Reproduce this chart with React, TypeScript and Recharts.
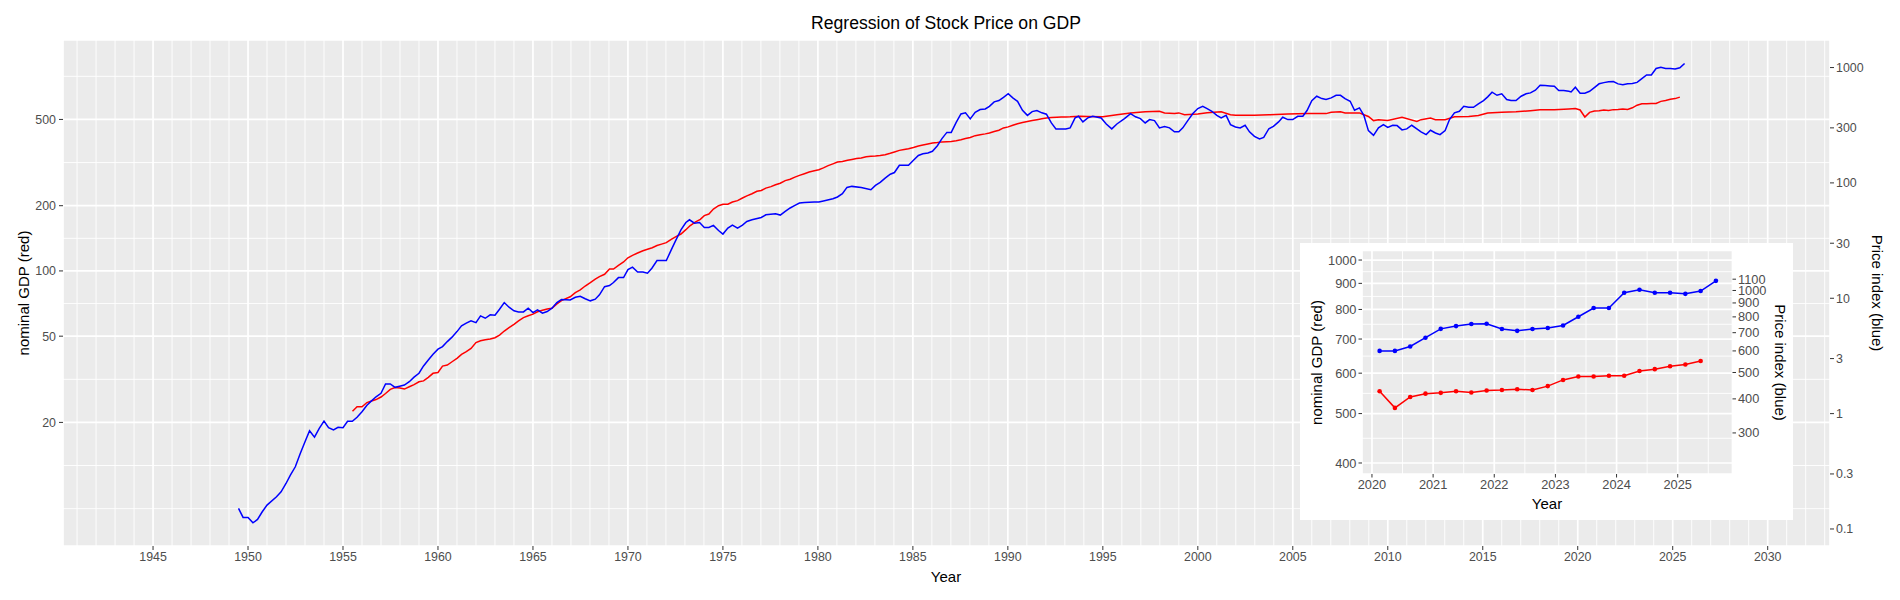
import React from 'react';
import { LineChart, Line, XAxis, YAxis, CartesianGrid } from 'recharts';

const FONT = '"Liberation Sans", Arial, Helvetica, sans-serif';

// Price index (blue), main chart readings up to end of 2019
const priceYears = [
  1949.5, 1949.74, 1950, 1950.26, 1950.5, 1950.75, 1951, 1951.5, 1951.74, 1952, 1952.23, 1952.49, 1952.75,
  1953, 1953.24, 1953.5, 1953.75, 1954, 1954.24, 1954.5, 1954.74, 1955, 1955.24, 1955.49, 1955.74,
  1956, 1956.26, 1956.5, 1956.74, 1957, 1957.24, 1957.49, 1957.74, 1957.98, 1958.23, 1958.49, 1958.74,
  1959, 1959.24, 1959.49, 1959.74, 1960, 1960.24, 1960.49, 1960.74, 1961, 1961.24, 1961.49, 1961.74,
  1962, 1962.24, 1962.49, 1962.75, 1963, 1963.24, 1963.49, 1963.74, 1964, 1964.24, 1964.5, 1964.75,
  1965, 1965.24, 1965.5, 1965.75, 1966, 1966.26, 1966.5, 1966.96, 1967.23, 1967.49, 1967.75, 1968.02,
  1968.28, 1968.5, 1968.77, 1969.03, 1969.24, 1969.5, 1969.77, 1970, 1970.24, 1970.51, 1970.79, 1971.03,
  1971.26, 1971.53, 1972.02, 1972.28, 1972.53, 1972.79, 1973.05, 1973.24, 1973.5, 1973.77, 1974.02,
  1974.26, 1974.5, 1974.77, 1975, 1975.26, 1975.5, 1975.77, 1976.03, 1976.26, 1976.53, 1977.02, 1977.26,
  1977.77, 1978.02, 1978.28, 1978.54, 1978.79, 1979.03, 1979.29, 1979.81, 1980.05, 1980.29, 1980.79,
  1981.03, 1981.29, 1981.53, 1981.79, 1982.28, 1982.79, 1983.03, 1983.28, 1983.54, 1983.81, 1984.03,
  1984.29, 1984.77, 1985.03, 1985.29, 1985.53, 1985.79, 1986.03, 1986.29, 1986.53, 1986.79, 1987.02,
  1987.28, 1987.53, 1987.77, 1988.02, 1988.28, 1988.54, 1988.81, 1989.03, 1989.28, 1989.53, 1989.77,
  1990.02, 1990.26, 1990.51, 1990.77, 1991.03, 1991.28, 1991.53, 1991.79, 1992.03, 1992.29, 1992.53,
  1993.05, 1993.28, 1993.54, 1993.72, 1993.95, 1994.21, 1994.47, 1994.91, 1995.18, 1995.47, 1995.74,
  1996.14, 1996.46, 1996.72, 1996.98, 1997.23, 1997.46, 1997.72, 1997.98, 1998.25, 1998.51, 1998.77,
  1999, 1999.21, 1999.47, 1999.74, 2000, 2000.26, 2000.49, 2000.74, 2001, 2001.23, 2001.49, 2001.72,
  2001.98, 2002.23, 2002.49, 2002.72, 2002.98, 2003.25, 2003.47, 2003.74, 2003.98, 2004.25, 2004.47,
  2004.74, 2005, 2005.26, 2005.53, 2005.75, 2006, 2006.26, 2006.53, 2006.75, 2007.02, 2007.28, 2007.51,
  2007.75, 2008.02, 2008.25, 2008.51, 2008.74, 2008.98, 2009.25, 2009.51, 2009.77, 2010, 2010.26,
  2010.49, 2010.75, 2011, 2011.26, 2011.53, 2011.75, 2012.02, 2012.25, 2012.51, 2012.75, 2013.02,
  2013.25, 2013.51, 2013.77, 2014, 2014.26, 2014.51, 2014.77, 2015.04, 2015.26, 2015.49, 2015.75, 2016,
  2016.26, 2016.49, 2016.75, 2017.02, 2017.28, 2017.51, 2017.77, 2018.02, 2018.28, 2018.54, 2018.77,
  2019, 2019.26, 2019.53, 2019.65, 2019.875,
];
const priceIndex = [
  0.151, 0.126, 0.126, 0.113, 0.121, 0.141, 0.161, 0.19, 0.21, 0.248, 0.293, 0.346, 0.452,
  0.57, 0.71, 0.626, 0.745, 0.863, 0.755, 0.721, 0.76, 0.755, 0.857, 0.857, 0.929,
  1.04, 1.18, 1.29, 1.4, 1.5, 1.81, 1.81, 1.69, 1.73, 1.77, 1.89, 2.07,
  2.24, 2.59, 2.92, 3.27, 3.62, 3.81, 4.21, 4.6, 5.14, 5.76, 6.08, 6.37,
  6.15, 7.03, 6.71, 7.18, 7.13, 8.04, 9.18, 8.37, 7.78, 7.62, 7.62, 8.2,
  7.52, 7.93, 7.43, 7.67, 8.2, 9.18, 9.75, 9.68, 10.2, 10.4, 9.9, 9.5,
  9.82, 10.7, 12.6, 12.9, 13.7, 15.1, 15.1, 17.7, 18.6, 16.9, 16.9, 16.5,
  18.2, 21.2, 21.2, 26.3, 32.1, 39.2, 45.4, 47.9, 44.8, 45.4, 41.1,
  41.1, 42.8, 38.7, 36, 40.6, 43.1, 40.6, 43.1, 46.3, 47.9, 50.2, 52.9,
  54, 52.6, 56.6, 60.6, 63.8, 66.9, 67.7, 68.3, 68.3, 69.7, 72.9,
  75.5, 80.6, 91.4, 93.3, 91.4, 87.3, 95.1, 101, 110, 119, 123,
  142, 142, 157, 173, 179, 182, 188, 210, 242, 274, 274,
  335, 396, 405, 359, 409, 432, 438, 461, 504, 517, 552,
  594, 546, 510, 426, 385, 415, 424, 405, 394, 331, 294,
  294, 300, 366, 378, 338, 366, 378, 366, 324, 294, 324,
  361, 399, 374, 361, 331, 354, 347, 300, 308, 300, 277,
  277, 300, 347, 399, 441, 461, 441, 418, 385, 366, 385, 320,
  305, 300, 316, 277, 253, 241, 248, 295, 309, 338, 371,
  354, 354, 378, 378, 424, 517, 564, 538, 528, 546, 575, 575,
  538, 510, 426, 447, 385, 284, 258, 300, 320, 303, 316,
  314, 288, 294, 316, 294, 277, 262, 286, 271, 262, 284,
  354, 405, 418, 461, 452, 452, 484, 517, 557, 611, 575, 592,
  528, 517, 517, 564, 592, 603, 636, 702, 698, 693, 689,
  631, 631, 622, 615, 675,
];

// nominal GDP (red), main chart readings up to end of 2019
const gdpYears = [
  1955.5, 1955.74, 1956, 1956.26, 1956.5, 1956.74, 1957, 1957.24, 1957.49, 1957.74, 1958, 1958.23, 1958.49,
  1958.74, 1959, 1959.24, 1959.49, 1959.74, 1960, 1960.24, 1960.49, 1960.74, 1961, 1961.24, 1961.49,
  1961.74, 1962, 1962.24, 1962.49, 1962.75, 1963, 1963.24, 1963.49, 1963.74, 1964, 1964.24, 1964.5,
  1964.75, 1965, 1965.24, 1965.5, 1965.75, 1966, 1966.26, 1966.5, 1966.7, 1966.96, 1967.23, 1967.49,
  1967.75, 1968.02, 1968.28, 1968.5, 1968.77, 1969.03, 1969.24, 1969.5, 1969.77, 1970, 1970.24, 1970.51,
  1970.79, 1971.03, 1971.28, 1971.53, 1971.77, 1972.02, 1972.28, 1972.53, 1972.79, 1973.05, 1973.28,
  1973.54, 1973.81, 1974.02, 1974.26, 1974.5, 1974.77, 1975, 1975.26, 1975.5, 1975.77, 1976.03, 1976.26,
  1976.53, 1976.79, 1977.02, 1977.26, 1977.53, 1977.77, 1978.02, 1978.28, 1978.54, 1978.79, 1979.03,
  1979.29, 1979.54, 1979.81, 1980.05, 1980.29, 1980.54, 1980.79, 1981.03, 1981.29, 1981.56, 1981.79,
  1982.03, 1982.28, 1982.54, 1982.79, 1983.03, 1983.28, 1983.54, 1983.81, 1984.03, 1984.29, 1984.54,
  1984.77, 1985.03, 1985.29, 1985.53, 1985.79, 1986.03, 1986.29, 1986.53, 1986.79, 1987.02, 1987.28,
  1987.53, 1987.77, 1988.02, 1988.28, 1988.54, 1988.81, 1989.03, 1989.28, 1989.53, 1989.77, 1990.02,
  1990.26, 1990.51, 1990.77, 1991.03, 1991.28, 1991.53, 1991.79, 1992.03, 1992.29, 1992.58, 1992.81,
  1993.05, 1993.28, 1993.54, 1993.81, 1994.21, 1995, 1995.74, 1996.46, 1997.23, 1997.98, 1998.25,
  1998.77, 1999, 1999.3, 2000, 2000.49, 2001.23, 2001.72, 2001.98, 2002.98, 2003.74, 2004.74, 2005.79,
  2006.75, 2007.02, 2007.51, 2007.75, 2008.51, 2008.74, 2008.98, 2009.25, 2009.51, 2010, 2010.75,
  2011.53, 2011.75, 2012.25, 2012.51, 2013.02, 2013.51, 2014.26, 2014.77, 2015.26, 2016, 2016.75,
  2017.51, 2018.02, 2018.77, 2019.53, 2019.875,
];
const gdpValues = [
  22.5, 23.6, 23.6, 24.7, 25.1, 25.5, 26.2, 27.2, 28.4, 29.0, 28.8, 28.5, 29.2,
  29.9, 30.8, 31.1, 32.3, 33.7, 34.0, 36.4, 36.8, 38.1, 39.5, 41.2, 42.4,
  43.9, 46.7, 47.6, 48.1, 48.5, 49.2, 50.6, 52.8, 54.7, 56.7, 58.8, 60.9,
  62.1, 63.2, 64.8, 65.8, 66.7, 67.3, 70.4, 73.0, 74.3, 76.0, 79.4, 81.7,
  85.2, 88.3, 91.6, 94.1, 96.5, 102, 102, 106, 110, 115, 118, 121,
  124, 126, 128, 131, 133, 135, 140, 144, 148, 155, 162,
  168, 173, 180, 183, 193, 200, 203, 203, 208, 211, 217, 222,
  227, 233, 235, 241, 245, 250, 254, 261, 265, 271, 276,
  281, 286, 290, 293, 299, 306, 312, 318, 320, 324, 327,
  330, 332, 336, 338, 339, 341, 344, 349, 354, 360, 363,
  366, 371, 377, 381, 385, 389, 391, 394, 395, 396, 399,
  403, 408, 413, 421, 425, 429, 433, 440, 446, 457, 462,
  470, 478, 484, 489, 494, 499, 504, 508, 510, 512, 513,
  513, 514, 516, 517, 516, 514, 526, 536, 542, 545, 536,
  532, 536, 526, 530, 537, 542, 526, 523, 523, 525, 530, 532,
  532, 540, 542, 536, 536, 526, 516, 494, 498, 494, 512,
  490, 499, 508, 499, 499, 514, 516, 521, 536, 540, 542,
  549, 555, 555, 559, 561,
];

// 2020 Q1 - 2025 Q3 (same series)
const recentYears = [
  2020.125, 2020.375, 2020.625, 2020.875, 2021.125, 2021.375, 2021.625, 2021.875,
  2022.125, 2022.375, 2022.625, 2022.875, 2023.125, 2023.375, 2023.625, 2023.875,
  2024.125, 2024.375, 2024.625, 2024.875, 2025.125, 2025.375, 2025.625,
];
const recentPrice = [
  600, 600, 623, 671, 723, 740, 753, 755, 722, 711, 722, 728,
  744, 801, 862, 862, 981, 1006, 981, 981, 972, 995, 1085,
];
const recentGdp = [
  553, 513, 539, 547, 549, 553, 550, 555, 556, 558, 556, 566,
  582, 591, 591, 593, 593, 606, 611, 619, 624, 634,
];

const xMajor = [1945, 1950, 1955, 1960, 1965, 1970, 1975, 1980, 1985, 1990, 1995, 2000, 2005, 2010, 2015, 2020, 2025, 2030];
const xMinor = Array.from({ length: 93 }, (_, i) => 1941 + i).filter(y => y % 5 !== 0);
const gdpTicks = [20, 50, 100, 200, 500];
const gdpMinor = [8, 12.65, 31.62, 70.71, 141.42, 316.23, 790.57];
const priceTicks = [0.1, 0.3, 1, 3, 10, 30, 100, 300, 1000];

const insetXTicks = [2020, 2021, 2022, 2023, 2024, 2025];
const insetXMinor = [2020.5, 2021.5, 2022.5, 2023.5, 2024.5, 2025.5];
const insetGdpTicks = [400, 500, 600, 700, 800, 900, 1000];
const insetGdpMinor = [447.2, 547.7, 648.1, 748.3, 848.5, 948.7];
const insetPriceTicks = [300, 400, 500, 600, 700, 800, 900, 1000, 1100];

const priceSeries = [...priceYears, ...recentYears].map((t, i) => ({ t, v: [...priceIndex, ...recentPrice][i] }));
const gdpSeries = [...gdpYears, ...recentYears.slice(0, recentGdp.length)].map((t, i) => ({ t, v: [...gdpValues, ...recentGdp][i] }));
const insetPrice = recentYears.map((t, i) => ({ t, v: recentPrice[i] }));
const insetGdp = recentGdp.map((v, i) => ({ t: recentYears[i], v }));

const tickStyle = { fill: '#4D4D4D', fontSize: 12.4, fontFamily: FONT };
const insetTickStyle = { fill: '#4D4D4D', fontSize: 12.8, fontFamily: FONT };
const tickLine = { stroke: '#333333', strokeWidth: 1 };

const MAIN_X = [1940.26, 2033.28];
const MAIN_GDP = [5.38, 1163];
const MAIN_PRICE = [0.0712, 1733];
const INSET_X = [2019.837, 2025.896];
const INSET_GDP = [380.6, 1044];
const INSET_PRICE = [212, 1402];

const App: React.FC = () => {
  return (
    <div style={{ position: 'absolute', left: 0, top: 0, width: 1900, height: 600, background: '#fff', fontFamily: FONT }}>
      <LineChart width={1900} height={600} margin={{ top: 40, right: 0, bottom: 0, left: 0 }}>
        {/* minor grid (yearly / log midpoints), then major grid */}
        <CartesianGrid xAxisId="x" yAxisId="gdp" verticalValues={xMinor} horizontalValues={gdpMinor}
          stroke="#FFFFFF" strokeWidth={0.9} fill="#EBEBEB" />
        <CartesianGrid xAxisId="x" yAxisId="gdp" stroke="#FFFFFF" strokeWidth={1.7} />
        <XAxis
          xAxisId="x" dataKey="t" type="number" domain={MAIN_X} allowDataOverflow
          ticks={xMajor} interval={0} height={54} tickSize={4} tickMargin={2}
          axisLine={false} tickLine={tickLine} tick={tickStyle}
        />
        <YAxis
          yAxisId="gdp" orientation="left" type="number" scale="log" domain={MAIN_GDP} allowDataOverflow
          ticks={gdpTicks} interval={0} width={63} tickSize={4} tickMargin={3}
          axisLine={false} tickLine={tickLine} tick={tickStyle}
        />
        <YAxis
          yAxisId="price" orientation="right" type="number" scale="log" domain={MAIN_PRICE} allowDataOverflow
          ticks={priceTicks} interval={0} width={70} tickSize={4} tickMargin={2}
          axisLine={false} tickLine={tickLine} tick={tickStyle}
        />
        <Line xAxisId="x" yAxisId="gdp" data={gdpSeries} dataKey="v" stroke="#FF0000" strokeWidth={1.5} dot={false} isAnimationActive={false} />
        <Line xAxisId="x" yAxisId="price" data={priceSeries} dataKey="v" stroke="#0000FF" strokeWidth={1.5} dot={false} isAnimationActive={false} />
      </LineChart>

      {/* inset: last five years */}
      <div style={{ position: 'absolute', left: 1300, top: 243, width: 493, height: 277, background: '#fff' }}>
        <LineChart width={493} height={277} margin={{ top: 7.5, right: 0, bottom: 0, left: 0 }}>
          <CartesianGrid xAxisId="x" yAxisId="gdp" verticalValues={insetXMinor} horizontalValues={insetGdpMinor}
            stroke="#FFFFFF" strokeWidth={0.9} fill="#EBEBEB" />
          <CartesianGrid xAxisId="x" yAxisId="gdp" stroke="#FFFFFF" strokeWidth={1.7} />
          <XAxis
            xAxisId="x" dataKey="t" type="number" domain={INSET_X} allowDataOverflow
            ticks={insetXTicks} interval={0} height={46} tickSize={3.5} tickMargin={2}
            axisLine={false} tickLine={tickLine} tick={insetTickStyle}
          />
          <YAxis
            yAxisId="gdp" orientation="left" type="number" scale="log" domain={INSET_GDP} allowDataOverflow
            ticks={insetGdpTicks} interval={0} width={62} tickSize={3.5} tickMargin={2}
            axisLine={false} tickLine={tickLine} tick={insetTickStyle}
          />
          <YAxis
            yAxisId="price" orientation="right" type="number" scale="log" domain={INSET_PRICE} allowDataOverflow
            ticks={insetPriceTicks} interval={0} width={60.5} tickSize={3.5} tickMargin={2}
            axisLine={false} tickLine={tickLine} tick={insetTickStyle}
          />
          <Line xAxisId="x" yAxisId="gdp" data={insetGdp} dataKey="v" stroke="#FF0000" strokeWidth={1.5}
            dot={{ r: 2.3, fill: '#FF0000', stroke: '#FF0000', strokeWidth: 0 }} isAnimationActive={false} />
          <Line xAxisId="x" yAxisId="price" data={insetPrice} dataKey="v" stroke="#0000FF" strokeWidth={1.5}
            dot={{ r: 2.3, fill: '#0000FF', stroke: '#0000FF', strokeWidth: 0 }} isAnimationActive={false} />
        </LineChart>
      </div>

      {/* titles */}
      <svg width={1900} height={600} style={{ position: 'absolute', left: 0, top: 0, pointerEvents: 'none' }}>
        <g fontFamily={FONT} fill="#000">
          <text x={946} y={23} fontSize={17.6} textAnchor="middle" dominantBaseline="central">Regression of Stock Price on GDP</text>
          <text x={946} y={576} fontSize={15} textAnchor="middle" dominantBaseline="central">Year</text>
          <text x={0} y={0} fontSize={15} textAnchor="middle" dominantBaseline="central" transform="translate(23,293) rotate(-90)">nominal GDP (red)</text>
          <text x={0} y={0} fontSize={15} textAnchor="middle" dominantBaseline="central" transform="translate(1877,293) rotate(90)">Price index (blue)</text>
          <text x={1547} y={503} fontSize={15} textAnchor="middle" dominantBaseline="central">Year</text>
          <text x={0} y={0} fontSize={15} textAnchor="middle" dominantBaseline="central" transform="translate(1316,362.5) rotate(-90)">nominal GDP (red)</text>
          <text x={0} y={0} fontSize={15} textAnchor="middle" dominantBaseline="central" transform="translate(1780,362.5) rotate(90)">Price index (blue)</text>
        </g>
      </svg>
    </div>
  );
};

export default App;
